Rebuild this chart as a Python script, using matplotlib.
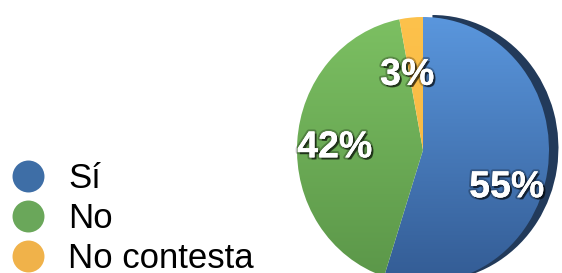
import numpy as np
import matplotlib
matplotlib.use("Agg")
import matplotlib.pyplot as plt
import matplotlib.patheffects as pe
from matplotlib.lines import Line2D

# survey answers
labels = ["Sí", "No", "No contesta"]
values = [55, 42, 3]
pct_text = ["55%", "42%", "3%"]

# gradient colours per slice (top, bottom) and flat colours for the legend
grad_top = ["#5b98df", "#7dc163", "#fdc24c"]
grad_bot = ["#325a92", "#5a9548", "#f2b23c"]
legend_colors = ["#3e6ea6", "#6aa75a", "#f0b24a"]

# where the percentage labels sit inside the pie (data units)
label_pos = [(0.665, -0.28), (-0.70, 0.02), (-0.125, 0.565)]

plt.rcParams["font.family"] = ["Liberation Sans", "DejaVu Sans"]

fig = plt.figure(figsize=(5.62, 2.73), dpi=100)
# pie is slightly taller than wide (tilted look), so aspect is left free
ax = fig.add_axes([297 / 562, -10 / 273, 252 / 562, 266 / 273])

wedges, texts, autotexts = ax.pie(
    values, startangle=90, counterclock=False, radius=1.0,
    autopct="%d%%", pctdistance=0.7,
)
ax.set_aspect("auto")

# dark rim behind the big slice
blue = wedges[0]
rim = matplotlib.patches.Wedge((0.075, 0.015), 1.0, blue.theta1, blue.theta2,
                               facecolor="#223a5a", edgecolor="none", zorder=0.5,
                               clip_on=False)
ax.add_patch(rim)

# vertical gradient clipped to each wedge
for w, ct, cb in zip(wedges, grad_top, grad_bot):
    w.set_facecolor("none")
    w.set_edgecolor("none")
    w.set_zorder(1)
    c1 = np.array(matplotlib.colors.to_rgb(ct))
    c2 = np.array(matplotlib.colors.to_rgb(cb))
    t = np.linspace(0, 1, 256)[:, None]
    img = (c1 * (1 - t) + c2 * t)[:, None, :]
    im = ax.imshow(img, extent=(-1.05, 1.05, -1.05, 1.05), aspect="auto",
                   origin="upper", zorder=1)
    im.set_clip_path(w)
ax.set_xlim(-1.0, 1.0)
ax.set_ylim(-1.0, 1.0)
ax.axis("off")

for t, s, p in zip(autotexts, pct_text, label_pos):
    t.set_text(s)
    t.set_position(p)
    t.set_color("white")
    t.set_fontsize(27)
    t.set_fontweight("bold")
    t.set_zorder(5)
    t.set_path_effects([
        pe.SimplePatchShadow(offset=(1.5, -1.5), shadow_rgbFace="black", alpha=0.6),
        pe.withStroke(linewidth=3, foreground=(0, 0, 0, 0.25)),
        pe.Normal(),
    ])

handles = [Line2D([], [], marker="o", linestyle="none", markersize=23,
                  markerfacecolor=c, markeredgecolor="none") for c in legend_colors]
fig.legend(handles, labels, loc="lower left", bbox_to_anchor=(0.019, -0.008),
           frameon=False, fontsize=25, handlelength=1.0, handletextpad=0.66,
           labelspacing=0.2, borderpad=0, borderaxespad=0)

fig.savefig("out.png", dpi=100)
